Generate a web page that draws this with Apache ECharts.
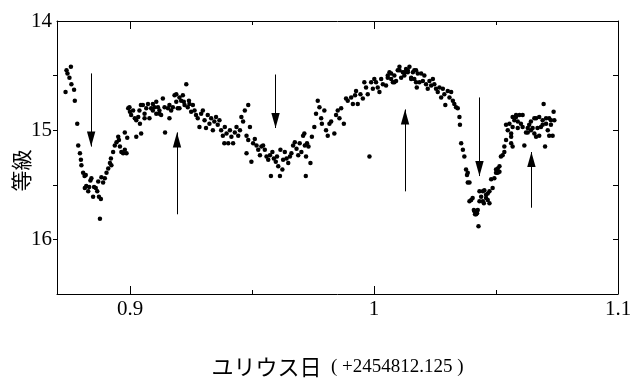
<!DOCTYPE html>
<html>
<head>
<meta charset="utf-8">
<script src="https://cdn.jsdelivr.net/npm/echarts@6/dist/echarts.min.js"></script>
<style>
  html, body { margin: 0; background: #ffffff; }
  #chart { width: 631px; height: 380px; }
</style>
</head>
<body>
<div id="chart"></div>
<script>
// 観測データ [JD - 2454812.125, 等級]
const lightCurve = [
  [0.8735,14.65],[0.8739,14.45],[0.8743,14.48],[0.8751,14.52],[0.8757,14.42],[0.8759,14.58],[0.8770,14.63],[0.8773,14.73],
  [0.8783,14.94],[0.8787,15.14],[0.8794,15.21],[0.8798,15.27],[0.8800,15.32],[0.8807,15.39],[0.8813,15.42],[0.8818,15.41],
  [0.8814,15.53],[0.8820,15.51],[0.8828,15.56],[0.8832,15.52],[0.8837,15.46],[0.8841,15.44],[0.8848,15.61],[0.8852,15.52],
  [0.8859,15.53],[0.8865,15.56],[0.8869,15.47],[0.8872,15.61],[0.8876,15.81],[0.8880,15.63],[0.8882,15.43],[0.8889,15.48],
  [0.8896,15.44],[0.8903,15.39],[0.8910,15.35],[0.8917,15.30],[0.8923,15.32],[0.8921,15.26],[0.8930,15.20],[0.8937,15.14],
  [0.8944,15.11],[0.8951,15.06],[0.8954,15.09],[0.8958,15.15],[0.8964,15.20],[0.8971,15.21],[0.8978,15.18],[0.8978,15.02],
  [0.8985,15.21],[0.8988,15.07],[0.8992,14.80],[0.8999,14.83],[0.9004,14.86],[0.8997,14.79],[0.9012,14.82],[0.9019,14.89],
  [0.9025,14.91],[0.9025,15.06],[0.9033,14.88],[0.9038,14.82],[0.9040,14.94],[0.9045,15.03],[0.9044,14.77],[0.9052,14.77],
  [0.9059,14.85],[0.9059,14.89],[0.9066,14.80],[0.9073,14.76],[0.9079,14.89],[0.9086,14.80],[0.9093,14.82],[0.9093,14.76],
  [0.9100,14.79],[0.9107,14.74],[0.9107,14.85],[0.9114,14.79],[0.9120,14.85],[0.9120,14.82],[0.9127,14.86],[0.9134,14.71],
  [0.9141,14.79],[0.9143,15.02],[0.9155,14.80],[0.9161,14.89],[0.9161,14.77],[0.9168,14.82],[0.9175,14.79],[0.9182,14.68],
  [0.9189,14.67],[0.9189,14.74],[0.9195,14.80],[0.9202,14.80],[0.9202,14.70],[0.9209,14.73],[0.9216,14.68],[0.9220,14.74],
  [0.9223,14.77],[0.9230,14.58],[0.9236,14.79],[0.9241,14.73],[0.9243,14.76],[0.9250,14.83],[0.9257,14.77],[0.9264,14.82],
  [0.9270,14.86],[0.9277,14.89],[0.9284,14.97],[0.9291,14.85],[0.9298,14.82],[0.9305,14.91],[0.9311,14.98],[0.9318,14.86],
  [0.9325,14.94],[0.9332,14.89],[0.9339,15.00],[0.9345,14.92],[0.9352,14.88],[0.9359,14.95],[0.9366,14.91],[0.9373,15.00],
  [0.9380,15.05],[0.9386,15.12],[0.9388,14.97],[0.9395,15.03],[0.9402,15.12],[0.9409,15.00],[0.9415,15.06],[0.9422,15.12],
  [0.9429,15.02],[0.9436,14.97],[0.9443,15.05],[0.9450,15.00],[0.9456,14.88],[0.9463,14.92],[0.9470,14.82],[0.9484,14.77],
  [0.9477,15.05],[0.9484,15.09],[0.9477,15.21],[0.9491,14.97],[0.9497,15.29],[0.9504,15.12],[0.9511,15.08],[0.9518,15.14],
  [0.9525,15.18],[0.9532,15.23],[0.9538,15.15],[0.9545,15.14],[0.9552,15.18],[0.9559,15.24],[0.9566,15.27],[0.9573,15.23],
  [0.9577,15.42],[0.9583,15.20],[0.9589,15.26],[0.9597,15.29],[0.9602,15.24],[0.9607,15.33],[0.9614,15.42],[0.9616,15.18],
  [0.9624,15.36],[0.9627,15.27],[0.9634,15.20],[0.9641,15.26],[0.9648,15.30],[0.9655,15.24],[0.9661,15.21],[0.9668,15.14],
  [0.9675,15.11],[0.9682,15.17],[0.9689,15.23],[0.9695,15.12],[0.9702,15.20],[0.9709,15.05],[0.9716,15.14],[0.9720,15.42],
  [0.9714,15.03],[0.9725,15.12],[0.9731,15.15],[0.9721,15.24],[0.9739,15.30],[0.9745,15.06],[0.9755,14.97],[0.9762,14.85],
  [0.9769,14.73],[0.9776,14.79],[0.9783,14.89],[0.9786,14.94],[0.9796,14.82],[0.9803,15.00],[0.9810,15.05],[0.9817,14.94],
  [0.9824,14.92],[0.9837,15.03],[0.9844,14.86],[0.9851,14.82],[0.9858,14.89],[0.9865,14.80],[0.9876,14.94],[0.9885,14.71],
  [0.9892,14.73],[0.9906,14.70],[0.9913,14.76],[0.9922,14.68],[0.9926,14.64],[0.9933,14.76],[0.9944,14.67],[0.9954,14.71],
  [0.9960,14.56],[0.9967,14.61],[0.9974,14.67],[0.9981,15.24],[0.9988,14.56],[0.9995,14.62],[1.0001,14.53],[1.0008,14.56],
  [1.0015,14.61],[1.0022,14.65],[1.0029,14.53],[1.0036,14.58],[1.0049,14.59],[1.0056,14.52],[1.0056,14.50],[1.0063,14.47],
  [1.0070,14.53],[1.0070,14.48],[1.0077,14.56],[1.0083,14.50],[1.0083,14.56],[1.0090,14.55],[1.0097,14.45],[1.0104,14.42],
  [1.0104,14.45],[1.0111,14.52],[1.0118,14.47],[1.0124,14.50],[1.0124,14.47],[1.0131,14.44],[1.0138,14.47],[1.0138,14.45],
  [1.0145,14.42],[1.0152,14.52],[1.0152,14.53],[1.0159,14.47],[1.0165,14.53],[1.0165,14.45],[1.0172,14.45],[1.0172,14.56],
  [1.0175,14.61],[1.0179,14.48],[1.0186,14.56],[1.0193,14.48],[1.0200,14.55],[1.0206,14.50],[1.0213,14.58],[1.0220,14.62],
  [1.0227,14.55],[1.0234,14.59],[1.0241,14.53],[1.0247,14.58],[1.0254,14.62],[1.0261,14.65],[1.0268,14.61],[1.0275,14.70],
  [1.0282,14.62],[1.0288,14.67],[1.0292,14.77],[1.0302,14.64],[1.0309,14.70],[1.0316,14.65],[1.0323,14.73],[1.0329,14.76],
  [1.0336,14.79],[1.0343,14.80],[1.0350,14.88],[1.0352,14.95],[1.0357,15.12],[1.0364,15.18],[1.0370,15.24],[1.0377,15.36],
  [1.0381,15.41],[1.0384,15.39],[1.0384,15.48],[1.0391,15.48],[1.0391,15.65],[1.0398,15.64],[1.0404,15.62],[1.0409,15.73],
  [1.0411,15.74],[1.0414,15.77],[1.0418,15.77],[1.0422,15.76],[1.0425,15.73],[1.0428,15.88],[1.0432,15.65],[1.0432,15.56],
  [1.0439,15.61],[1.0446,15.56],[1.0446,15.65],[1.0450,15.67],[1.0452,15.55],[1.0459,15.59],[1.0459,15.62],[1.0466,15.64],
  [1.0466,15.58],[1.0473,15.56],[1.0473,15.67],[1.0480,15.45],[1.0486,15.53],[1.0493,15.44],[1.0500,15.36],[1.0500,15.39],
  [1.0507,15.39],[1.0507,15.35],[1.0514,15.33],[1.0514,15.38],[1.0520,15.24],[1.0527,15.23],[1.0534,15.15],[1.0534,15.20],
  [1.0541,15.09],[1.0541,14.95],[1.0548,15.00],[1.0555,14.94],[1.0562,15.12],[1.0562,15.03],[1.0562,15.06],[1.0568,15.15],
  [1.0568,14.97],[1.0568,14.88],[1.0575,14.91],[1.0582,14.88],[1.0582,14.86],[1.0589,14.98],[1.0589,14.92],[1.0596,14.86],
  [1.0602,14.94],[1.0609,14.97],[1.0609,14.86],[1.0616,15.14],[1.0623,15.02],[1.0630,14.98],[1.0630,15.02],[1.0636,14.95],
  [1.0643,15.00],[1.0643,14.92],[1.0650,14.98],[1.0657,15.03],[1.0657,14.89],[1.0664,14.89],[1.0664,15.06],[1.0670,14.98],
  [1.0677,15.05],[1.0677,14.88],[1.0684,14.97],[1.0691,14.91],[1.0691,14.95],[1.0695,14.76],[1.0701,15.15],[1.0705,14.94],
  [1.0705,14.89],[1.0712,15.00],[1.0718,14.89],[1.0718,15.05],[1.0725,14.95],[1.0725,14.91],[1.0732,15.05],[1.0736,14.83],
  [1.0739,14.91]
];

// 矢印 (JD, 始点の等級, 先端の等級)
const arrowJd   = [0.8840, 0.9596, 1.0432, 0.9192, 1.0127, 1.0645];
const arrowFrom = [14.48, 14.49, 14.70, 15.77, 15.56, 15.71];
const arrowTo   = [15.15, 14.98, 15.42, 15.02, 14.81, 15.20];

const xMajor = [0.9, 1, 1.1];
const xMinor = [0.95, 1.05];
const yLabels = [14, 15, 16];
const yTicks = [14.5, 15, 15.5, 16];

const serif = '"Liberation Serif", "Times New Roman", serif';
const cjk = '"Noto Sans CJK JP", sans-serif';
const black = '#000000';

// 先端が中心にくる細い三角形
const arrowHead = 'path://M10,10 L12.8,20 L7.2,20 Z M0,0 M20,20';

function frameX(position, ticks, len, showLine) {
  return {
    type: 'value',
    position: position,
    min: 0.87,
    max: 1.1,
    axisLine: { show: showLine, onZero: false, lineStyle: { color: black, width: 1 } },
    axisTick: { show: true, inside: true, length: len, customValues: ticks, lineStyle: { color: black } },
    axisLabel: { show: false },
    splitLine: { show: false }
  };
}

let chart = echarts.init(document.getElementById('chart'));

let bottomMajor = frameX('bottom', xMajor, 8, true);
bottomMajor.axisLabel = {
  show: true,
  customValues: xMajor,
  formatter: function (v) { return String(v); },
  color: black,
  fontFamily: serif,
  fontSize: 21,
  margin: 5
};
bottomMajor.name = '{a|ユリウス日}{b|  ( +2454812.125 )}';
bottomMajor.nameLocation = 'middle';
bottomMajor.nameGap = 62;
bottomMajor.nameTextStyle = {
  rich: {
    a: { fontFamily: cjk, fontSize: 22, color: black },
    b: { fontFamily: serif, fontSize: 19, color: black }
  }
};

let option = {
  animation: false,
  backgroundColor: '#ffffff',
  grid: { left: 57, right: 13, top: 21, bottom: 86, containLabel: false, outerBoundsMode: 'none' },
  xAxis: [
    bottomMajor,
    frameX('bottom', xMinor, 4, false),
    frameX('top', [0.9, 1], 8, true),
    frameX('top', xMinor, 4, false)
  ],
  yAxis: [
    {
      type: 'value',
      position: 'left',
      inverse: true,
      min: 14,
      max: 16.5,
      interval: 0.5,
      axisLine: { show: true, onZero: false, lineStyle: { color: black, width: 1 } },
      axisTick: { show: true, inside: false, length: 4, customValues: yTicks, lineStyle: { color: black } },
      axisLabel: {
        customValues: yLabels,
        color: black,
        fontFamily: serif,
        fontSize: 21,
        margin: 5
      },
      splitLine: { show: false },
      name: '等級',
      nameLocation: 'middle',
      nameGap: 25,
      nameMoveOverlap: false,
      nameTextStyle: { fontFamily: cjk, fontSize: 21, color: black, padding: [0, 26, 0, 0] }
    },
    {
      type: 'value',
      position: 'right',
      inverse: true,
      min: 14,
      max: 16.5,
      interval: 0.5,
      axisLine: { show: true, onZero: false, lineStyle: { color: black, width: 1 } },
      axisTick: { show: true, inside: true, length: 5, customValues: yTicks, lineStyle: { color: black } },
      axisLabel: { show: false },
      splitLine: { show: false }
    }
  ],
  series: [
    {
      type: 'scatter',
      xAxisIndex: 0,
      yAxisIndex: 0,
      data: lightCurve,
      symbol: 'circle',
      symbolSize: 4.5,
      itemStyle: { color: black, opacity: 1 },
      silent: true
    },
    {
      type: 'lines',
      coordinateSystem: 'cartesian2d',
      xAxisIndex: 0,
      yAxisIndex: 0,
      symbol: ['none', arrowHead],
      symbolSize: 30,
      lineStyle: { color: black, width: 1, opacity: 1, curveness: 0 },
      data: arrowJd.map(function (x, i) {
        return { coords: [[x, arrowFrom[i]], [x, arrowTo[i]]] };
      }),
      silent: true,
      z: 3
    }
  ]
};

chart.setOption(option);
</script>
</body>
</html>
